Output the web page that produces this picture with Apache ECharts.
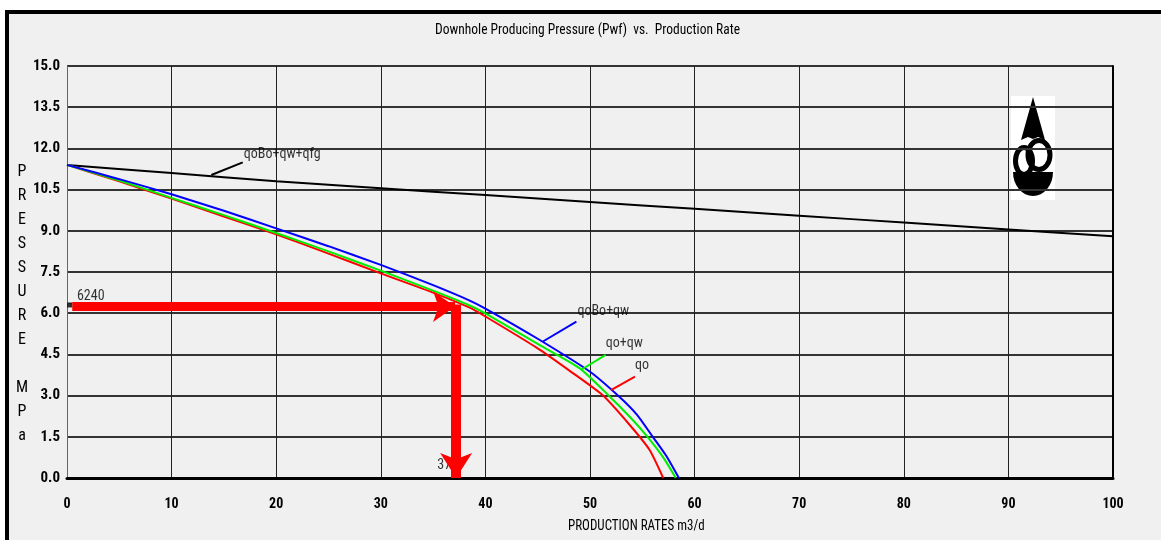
<!DOCTYPE html>
<html>
<head>
<meta charset="utf-8">
<script src="https://cdn.jsdelivr.net/npm/echarts@6/dist/echarts.min.js"></script>
<style>
  html,body{margin:0;padding:0;background:#ffffff;overflow:hidden;}
  #frame{position:absolute;left:5px;top:10px;width:1156px;height:530px;box-sizing:border-box;border-left:4px solid #000;border-top:4px solid #000;background:#f0f0f0;}
  #chart{position:absolute;left:0;top:0;width:1161px;height:540px;}
</style>
</head>
<body>
<div id="frame"></div>
<div id="chart"></div>
<script>
// ---------------- data ----------------
const titleText = 'Downhole Producing Pressure (Pwf)  vs.  Production Rate';
const xAxisName = 'PRODUCTION RATES m3/d';
const yAxisLetters = ['P','R','E','S','S','U','R','E','','M','P','a'];

// qoBo+qw+qfg (black)
const qoBoQwQfg = [[0,11.4],[10,11.1],[20,10.8],[30,10.55],[40,10.3],[50,10.05],[60,9.8],[70,9.55],[80,9.3],[90,9.05],[100,8.8]];
// qoBo+qw (blue)
const qoBoQw = [[0,11.4],[5,10.88],[10,10.33],[15,9.73],[20,9.09],[25,8.44],[30,7.76],[35,7.02],[38.5,6.46],[40,6.17],[45,5.07],[50,3.87],[52.8,2.96],[54.5,2.3],[56,1.5],[57.3,0.8],[58.5,0]];
// qo+qw (green)
const qoQw = [[0,11.4],[5,10.83],[10,10.2],[15,9.57],[20,8.92],[25,8.25],[30,7.55],[35,6.82],[38.5,6.28],[40,5.99],[45,4.88],[49,4.0],[51.9,2.96],[54,2.15],[55.5,1.5],[57,0.75],[58.2,0]];
// qo (red)
const qo = [[0,11.4],[5,10.8],[10,10.17],[15,9.52],[20,8.87],[25,8.17],[30,7.45],[35,6.75],[38.5,6.2],[40,5.88],[45,4.72],[48,3.92],[51.2,3.02],[53.8,1.93],[55.7,1.02],[57,0]];

// curve name labels: [x, y, text] and their leader lines
const curveLabels = [[16.9,11.76,'qoBo+qw+qfg'],[48.8,6.05,'qoBo+qw'],[51.5,4.91,'qo+qw'],[54.3,4.11,'qo']];
const leaderBlack = [[13.8,11.03],[16.8,11.49]];
const leaderBlue  = [[45.5,4.97],[48.7,5.69]];
const leaderGreen = [[49.2,3.95],[51.5,4.48]];
const leaderRed   = [[52.0,3.20],[54.3,3.69]];

// operating point annotation
const pwfValue = 6.24;      // MPa  (6240 kPa)
const rateValue = 37.2;     // m3/d
const pwfLabel = '6240';
const rateLabel = '37';

// ---------------- chart ----------------
const FONT = "'Roboto Condensed','Liberation Sans Narrow','DejaVu Sans Condensed',sans-serif";
const chart = echarts.init(document.getElementById('chart'), null, {renderer:'canvas'});

function curve(name, data, color){
  return {name, type:'line', data, showSymbol:false, symbol:'none', smooth:0.2,
    lineStyle:{color, width:2}, z:3, silent:true, animation:false};
}
function leader(data, color){
  return {type:'line', data, showSymbol:false, symbol:'none', lineStyle:{color, width:2}, z:3, silent:true, animation:false};
}
function textMark(data, z, vAlign, offset){
  return {type:'scatter', data, symbolSize:1, itemStyle:{color:'rgba(0,0,0,0)'}, silent:true, z,
    label:{show:true, position:'inside', align:'left', verticalAlign:vAlign, offset,
      color:'#000', fontFamily:FONT, fontSize:14, formatter:p=>p.data[2]}};
}

const option = {
  animation:false,
  backgroundColor:'transparent',
  textStyle:{fontFamily:FONT},
  grid:{left:67, right:48, top:66, bottom:62, containLabel:false},
  xAxis:{
    type:'value', min:0, max:100, interval:10,
    axisLine:{show:true, onZero:false, lineStyle:{color:'#000', width:3}},
    axisTick:{show:false},
    axisLabel:{color:'#000', fontFamily:FONT, fontSize:14, fontWeight:'bold', margin:19},
    splitLine:{show:true, lineStyle:{color:'#222', width:1}}
  },
  yAxis:[{
    type:'value', min:0, max:15, interval:1.5,
    axisLine:{show:true, lineStyle:{color:'#666', width:1}},
    axisTick:{show:false},
    axisLabel:{color:'#000', fontFamily:FONT, fontSize:15, fontWeight:'bold', margin:7,
      formatter:v=>v.toFixed(1)},
    splitLine:{show:true, lineStyle:{color:'#333', width:2}}
  },{
    type:'value', min:0, max:15, position:'right',
    axisLine:{show:true, lineStyle:{color:'#000', width:2}},
    axisTick:{show:false}, axisLabel:{show:false}, splitLine:{show:false}
  }],
  series:[
    curve('qoBo+qw+qfg', qoBoQwQfg, '#000000'),
    curve('qo', qo, '#ff0000'),
    curve('qo+qw', qoQw, '#00ee00'),
    curve('qoBo+qw', qoBoQw, '#0000ff'),
    leader(leaderBlack,'#000000'),
    leader(leaderBlue,'#0000ff'),
    leader(leaderGreen,'#00ee00'),
    leader(leaderRed,'#ff0000'),
    textMark(curveLabels, 4, 'middle', [0,0]),
    textMark([[0.95, pwfValue, pwfLabel]], 4, 'bottom', [0,-3]),
    textMark([[35.4, 0.44, rateLabel]], 1, 'middle', [0,0]),
    {
      type:'line', data:[[0,pwfValue]], showSymbol:false, symbol:'none', lineStyle:{opacity:0}, z:5, silent:true,
      markLine:{
        silent:true, animation:false, precision:4,
        label:{show:false},
        data:[
          [{coord:[0,pwfValue+0.12], symbol:'none', lineStyle:{color:'#a0a0a0', width:1, type:[5,4]}},{coord:[37,pwfValue+0.12], symbol:'none'}],
          [{coord:[0.5,pwfValue], symbol:'none', lineStyle:{color:'#ff0000', width:9, type:'solid'}},
           {coord:[37.1,pwfValue], symbol:'arrow', symbolSize:[23,22]}],
          [{coord:[rateValue,pwfValue+0.08], symbol:'none', lineStyle:{color:'#ff0000', width:10, type:'solid'}},
           {coord:[rateValue,0], symbol:'arrow', symbolSize:[24,25]}]
        ]
      }
    },
    {
      type:'scatter', data:[[0.25,6.3]], symbol:'rect', symbolSize:5, itemStyle:{color:'#000'}, z:6, silent:true
    }
  ],
  graphic:[
    {type:'text', x:435, y:22, scaleY:1.15, style:{text:titleText, fill:'#000', font:'13.5px '+FONT}},
    {type:'text', x:568, y:519, scaleY:1.15, style:{text:xAxisName, fill:'#000', font:'13px '+FONT}},
    {type:'text', x:22, y:160, style:{text:yAxisLetters.join('\n'), fill:'#000', font:'16px '+FONT, lineHeight:24, align:'center'}},
    // logo
    {type:'group', x:1011, y:96, children:[
      {type:'rect', shape:{x:0,y:0,width:44,height:104}, style:{fill:'#ffffff'}},
      {type:'polygon', shape:{points:[[22,1],[34,44],[27,41],[22,43],[17,41],[10,44]]}, style:{fill:'#000'}},
      {type:'sector', x:0, y:76, scaleY:1.2, shape:{cx:22, cy:0, r0:0, r:20, startAngle:0, endAngle:Math.PI, clockwise:true}, style:{fill:'#000'}},
      {type:'ellipse', shape:{cx:13, cy:65, rx:8.5, ry:13.5}, style:{fill:'none', stroke:'#000', lineWidth:5}},
      {type:'ellipse', shape:{cx:28, cy:59, rx:11, ry:14.5}, style:{fill:'none', stroke:'#000', lineWidth:5}}
    ]}
  ]
};
chart.setOption(option);
</script>
</body>
</html>
